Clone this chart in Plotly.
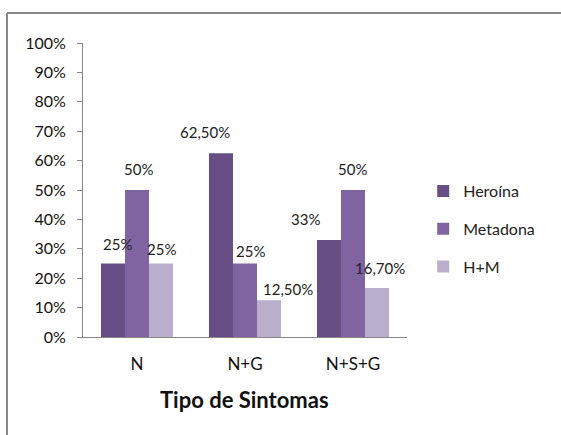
import plotly.graph_objects as go

# Categories and series values (fractions)
categories = ["N", "N+G", "N+S+G"]
series_names = ["Heroína", "Metadona", "H+M"]
heroina = [0.25, 0.625, 0.33]
metadona = [0.50, 0.25, 0.50]
h_m = [0.25, 0.125, 0.167]
label_texts = [
    ["25%", "62,50%", "33%"],
    ["50%", "25%", "50%"],
    ["25%", "12,50%", "16,70%"],
]
y_ticks = [i / 10 for i in range(11)]

colors = ["#674F86", "#8064A2", "#B9AECB"]
FONT = "Lato"

# Label nudges (px) relative to each bar top
label_dx = [[5, -16, -23], [1, 5, -1], [0, 19, 3]]
label_dy = [[20, 21, 21], [21, 13, 21], [15, 11, 20]]

series_values = [heroina, metadona, h_m]
bargap = 0.333
bar_w = (1 - bargap) / 3

fig = go.Figure()
for j, (name, vals) in enumerate(zip(series_names, series_values)):
    fig.add_trace(go.Bar(
        x=categories, y=vals, name=name,
        marker=dict(color=colors[j], line=dict(width=0)),
        legendgroup=name,
        hoverinfo="skip",
    ))

annotations = []
for j, vals in enumerate(series_values):
    for i, v in enumerate(vals):
        annotations.append(dict(
            x=i + (j - 1) * bar_w, y=v, xref="x", yref="y",
            text=label_texts[j][i], showarrow=False,
            xshift=label_dx[j][i], yshift=label_dy[j][i],
            yanchor="middle", xanchor="center",
            font=dict(family=FONT, size=15, color="#222"),
        ))

# axis title
annotations.append(dict(
    x=(244 - 83) / 324, y=0, xref="paper", yref="paper", yshift=-62,
    text="<b>Tipo de Sintomas</b>", showarrow=False,
    font=dict(family=FONT, size=22, color="#111"),
    xanchor="center", yanchor="middle",
))

# outer chart frame: left edge and top edge
fx = (7 - 83) / 324
fy = (337 - 13) / 294
shapes = [
    dict(type="line", xref="paper", yref="paper",
         x0=fx, x1=fx, y0=fy, y1=(337 - 440) / 294,
         line=dict(color="#888888", width=2)),
    dict(type="line", xref="paper", yref="paper",
         x0=fx, x1=(561 - 83) / 324, y0=fy, y1=fy,
         line=dict(color="#888888", width=2)),
]

fig.update_layout(
    width=561, height=435,
    margin=dict(l=83, r=154, t=43, b=98),
    paper_bgcolor="white", plot_bgcolor="white",
    barmode="group", bargap=bargap, bargroupgap=0,
    font=dict(family=FONT, color="#222"),
    showlegend=True,
    legend=dict(
        x=1.05, y=(337 - 229) / 294, xanchor="left", yanchor="middle",
        traceorder="grouped", tracegroupgap=14,
        font=dict(family=FONT, size=16, color="#222"),
        itemwidth=30, bgcolor="rgba(0,0,0,0)",
    ),
    annotations=annotations,
    shapes=shapes,
    xaxis=dict(
        showline=True, linecolor="#868686", linewidth=1,
        ticks="", showgrid=False,
        tickfont=dict(family=FONT, size=17, color="#111"),
        ticklabelstandoff=12,
        range=[-0.5, 2.5],
    ),
    yaxis=dict(
        range=[0, 1], tickvals=y_ticks, tickformat=".0%",
        showline=True, linecolor="#868686", linewidth=1,
        ticks="outside", ticklen=5, tickcolor="#868686",
        showgrid=False, zeroline=False,
        ticklabelstandoff=8,
        tickfont=dict(family=FONT, size=16, color="#111"),
    ),
)

fig.write_html("out.html", config={"displayModeBar": False})
